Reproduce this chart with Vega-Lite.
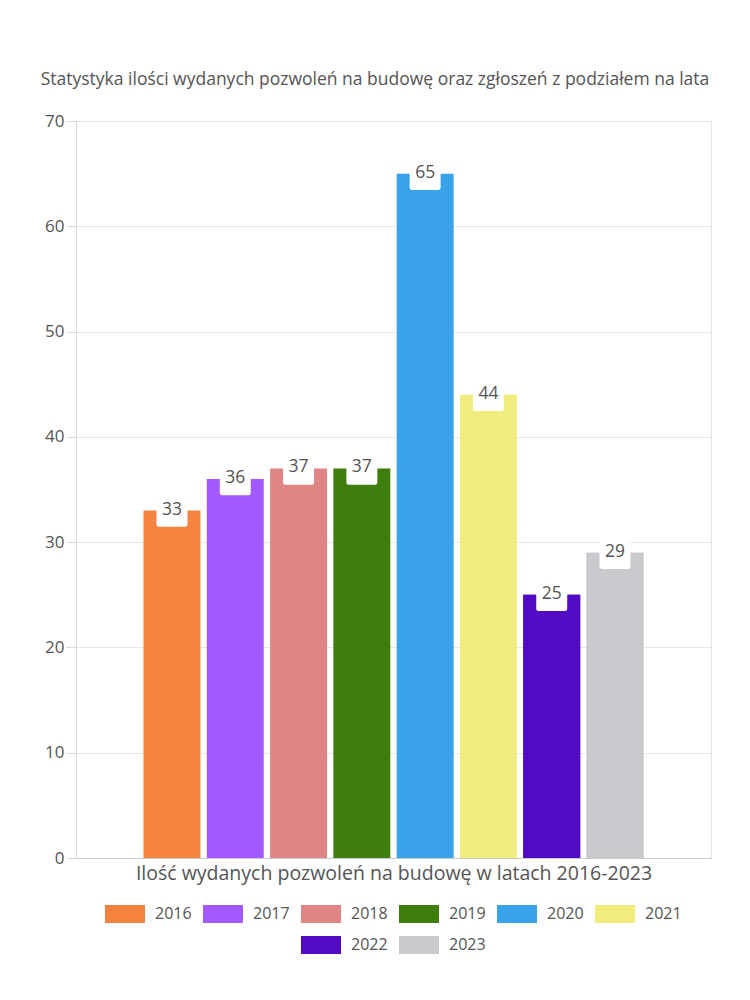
{
  "$schema": "https://vega.github.io/schema/vega-lite/v6.json",
  "width": 635,
  "height": 737,
  "autosize": {"type": "pad"},
  "padding": {"left": 40, "top": 70, "right": 40, "bottom": 10},
  "background": "white",
  "title": {
    "text": "Statystyka ilości wydanych pozwoleń na budowę oraz zgłoszeń z podziałem na lata",
    "font": "Open Sans",
    "fontSize": 17.5,
    "fontWeight": "normal",
    "color": "#555555",
    "anchor": "middle",
    "dx": -18.5,
    "offset": 24
  },
  "config": {
    "view": {"stroke": "#e6e6e6"},
    "font": "Open Sans",
    "legend": {
      "layout": {
        "bottom": {"anchor": "middle", "direction": "vertical", "center": true, "margin": 2}
      }
    }
  },
  "data": {
    "values": [
      {"rok": "2016", "grupa": "A", "ilosc": 33},
      {"rok": "2017", "grupa": "A", "ilosc": 36},
      {"rok": "2018", "grupa": "A", "ilosc": 37},
      {"rok": "2019", "grupa": "A", "ilosc": 37},
      {"rok": "2020", "grupa": "A", "ilosc": 65},
      {"rok": "2021", "grupa": "A", "ilosc": 44},
      {"rok": "2022", "grupa": "A", "ilosc": 25},
      {"rok": "2023", "grupa": "A", "ilosc": 29}
    ]
  },
  "encoding": {
    "x": {
      "field": "grupa",
      "type": "nominal",
      "scale": {"paddingInner": 0.2126, "paddingOuter": 0.1063},
      "axis": {
        "title": "Ilość wydanych pozwoleń na budowę w latach 2016-2023",
        "titleFont": "Open Sans",
        "titleFontSize": 19.5,
        "titleFontWeight": "normal",
        "titleColor": "#555555",
        "titlePadding": 6,
        "labels": false,
        "ticks": false,
        "grid": false,
        "domainColor": "#cccccc"
      }
    },
    "xOffset": {
      "field": "rok",
      "type": "nominal",
      "scale": {"paddingInner": 0.1, "paddingOuter": 0}
    },
    "y": {
      "field": "ilosc",
      "type": "quantitative",
      "scale": {"domain": [0, 70]},
      "axis": {
        "title": null,
        "values": [0, 10, 20, 30, 40, 50, 60, 70],
        "labelFont": "Open Sans",
        "labelFontSize": 17,
        "labelColor": "#555555",
        "labelPadding": 2,
        "tickSize": 10,
        "tickColor": "#d9d9d9",
        "gridColor": "#e6e6e6",
        "domainColor": "#d9d9d9"
      }
    }
  },
  "layer": [
    {
      "mark": {"type": "bar"},
      "encoding": {
        "color": {
          "field": "rok",
          "type": "nominal",
          "scale": {
            "domain": ["2016", "2017", "2018", "2019", "2020", "2021", "2022", "2023"],
            "range": ["#F58340", "#A259FF", "#E08585", "#3F7D0C", "#38A3EA", "#F0EC7E", "#500BC3", "#C9CACD"]
          },
          "legend": {
            "values": ["2016", "2017", "2018", "2019", "2020", "2021"],
            "title": null,
            "orient": "bottom",
            "direction": "horizontal",
            "columns": 6,
            "symbolType": "M-1,-0.45H1V0.45H-1Z",
            "symbolSize": 1600,
            "symbolStrokeWidth": 0,
            "labelFont": "Open Sans",
            "labelFontSize": 16,
            "labelColor": "#555555",
            "labelOffset": 10,
            "columnPadding": 11,
            "offset": 11
          }
        }
      }
    },
    {
      "transform": [{"filter": {"field": "rok", "oneOf": ["2022", "2023"]}}],
      "mark": {"type": "bar"},
      "encoding": {
        "fill": {
          "field": "rok",
          "type": "nominal",
          "scale": {
            "domain": ["2022", "2023"],
            "range": ["#500BC3", "#C9CACD"]
          },
          "legend": {
            "title": null,
            "orient": "bottom",
            "direction": "horizontal",
            "columns": 2,
            "symbolType": "M-1,-0.45H1V0.45H-1Z",
            "symbolSize": 1600,
            "symbolStrokeWidth": 0,
            "labelFont": "Open Sans",
            "labelFontSize": 16,
            "labelColor": "#555555",
            "labelOffset": 10,
            "columnPadding": 11
          }
        }
      }
    },
    {
      "mark": {
        "type": "point",
        "shape": "M-0.85,-1.05H0.85Q1,-1.05 1,-0.9V0.9Q1,1.05 0.85,1.05H-0.85Q-1,1.05 -1,0.9V-0.9Q-1,-1.05 -0.85,-1.05Z",
        "size": 960,
        "filled": true,
        "fill": "white",
        "opacity": 1,
        "strokeWidth": 0
      }
    },
    {
      "mark": {
        "type": "text",
        "baseline": "middle",
        "align": "center",
        "font": "Open Sans",
        "fontSize": 17.5,
        "color": "#555555",
        "dy": -1
      },
      "encoding": {
        "text": {"field": "ilosc", "type": "quantitative"}
      }
    }
  ]
}
